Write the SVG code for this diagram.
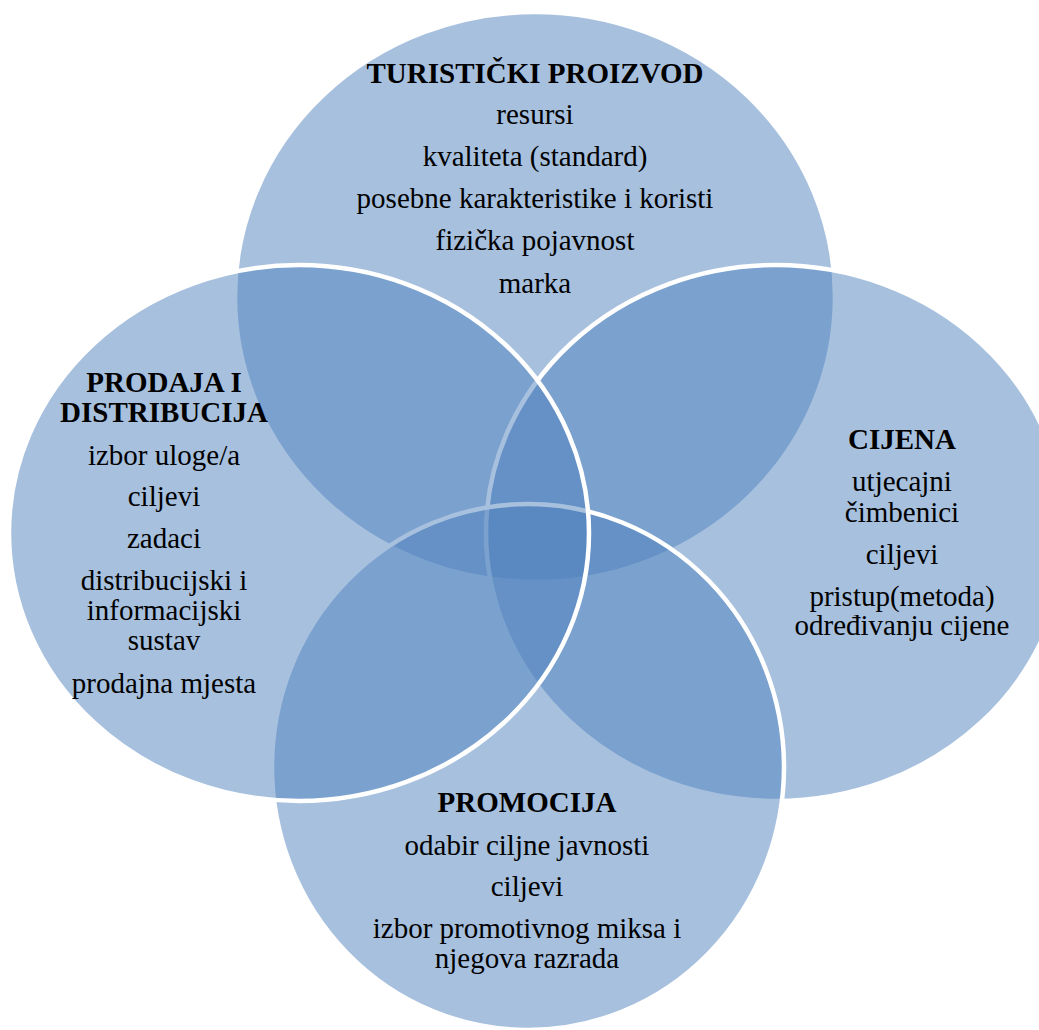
<svg xmlns="http://www.w3.org/2000/svg" width="1039" height="1030" viewBox="0 0 1039 1030">
  <style>
    .set { fill: #4F81BD; fill-opacity: 0.5; stroke: #FFFFFF; stroke-width: 4.5; }
    text { font-family: 'Liberation Serif', 'Times New Roman', Times, 'Nimbus Roman', 'DejaVu Serif', serif; font-size: 29px; font-weight: 400; font-style: normal; fill: #000000; text-anchor: middle; }
    text.title { font-weight: 700; }
  </style>
  <rect x="0" y="0" width="1039" height="1030" fill="#FFFFFF"/>
  <g id="connectors"/>
  <g id="node-turisticki-proizvod">
    <ellipse class="set" cx="535" cy="297" rx="300" ry="285"/>
    <text class="title" x="535" y="83">TURISTIČKI PROIZVOD</text>
    <text x="535" y="124">resursi</text>
    <text x="535" y="166">kvaliteta (standard)</text>
    <text x="535" y="208">posebne karakteristike i koristi</text>
    <text x="535" y="250">fizička pojavnost</text>
    <text x="535" y="293">marka</text>
  </g>
  <g id="node-cijena">
    <ellipse class="set" cx="776" cy="533" rx="290" ry="268"/>
    <text class="title" x="902" y="449">CIJENA</text>
    <text x="902" y="491">utjecajni</text>
    <text x="902" y="522">čimbenici</text>
    <text x="902" y="564">ciljevi</text>
    <text x="902" y="606">pristup(metoda)</text>
    <text x="902" y="635">određivanju cijene</text>
  </g>
  <g id="node-promocija">
    <ellipse class="set" cx="528" cy="767" rx="256" ry="263"/>
    <text class="title" x="527" y="812">PROMOCIJA</text>
    <text x="527" y="855">odabir ciljne javnosti</text>
    <text x="527" y="896">ciljevi</text>
    <text x="527" y="938">izbor promotivnog miksa i</text>
    <text x="527" y="968">njegova razrada</text>
  </g>
  <g id="node-prodaja-i-distribucija">
    <ellipse class="set" cx="299" cy="533" rx="290" ry="268"/>
    <text class="title" x="164" y="392">PRODAJA I</text>
    <text class="title" x="164" y="422">DISTRIBUCIJA</text>
    <text x="164" y="465">izbor uloge/a</text>
    <text x="164" y="506">ciljevi</text>
    <text x="164" y="548">zadaci</text>
    <text x="164" y="590">distribucijski i</text>
    <text x="164" y="620">informacijski</text>
    <text x="164" y="650">sustav</text>
    <text x="164" y="693">prodajna mjesta</text>
  </g>
</svg>
